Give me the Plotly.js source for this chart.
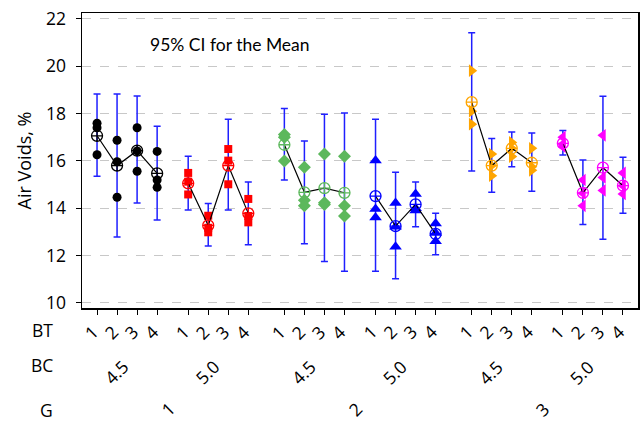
<!DOCTYPE html>
<html>
<head>
<meta charset="utf-8">
<script src="https://cdn.plot.ly/plotly-3.0.1.min.js"></script>
<style>html,body{margin:0;padding:0;background:#fff}#chart{width:640px;height:421px}</style>
</head>
<body>
<div id="chart"></div>
<script>
// ---- categories ----
const G_levels = ['1', '2', '3'];
const BC_levels = ['4.5', '5.0'];
const BT_levels = ['1', '2', '3', '4'];

// ---- individual values (3 replicates per BT) ----
const g1_bc45_pts = [[17.59, 17.40, 16.26], [16.87, 15.96, 14.46], [17.40, 16.42, 15.56], [16.40, 15.19, 14.88]];
const g1_bc50_pts = [[15.49, 15.12, 14.58], [13.68, 13.17, 12.98], [16.50, 16.01, 15.01], [14.39, 13.67, 13.40]];
const g2_bc45_pts = [[17.11, 17.00, 15.99], [15.73, 14.34, 14.10], [16.29, 14.23, 14.15], [16.19, 14.10, 13.67]];
const g2_bc50_pts = [[16.01, 13.96, 13.61], [14.22, 13.21, 12.37], [14.60, 14.00, 13.90], [13.35, 12.95, 12.60]];
const g3_bc45_pts = [[19.81, 18.10, 17.55], [16.29, 15.80, 15.37], [16.78, 16.53, 16.18], [16.53, 15.75, 15.60]];
const g3_bc50_pts = [[16.71, 17.00, 16.60], [15.19, 14.63, 14.10], [17.08, 15.30, 14.75], [15.49, 14.95, 14.60]];

// ---- means ----
const g1_bc45_mean = [17.06, 15.80, 16.43, 15.47];
const g1_bc50_mean = [15.05, 13.27, 15.80, 13.78];
const g2_bc45_mean = [16.68, 14.67, 14.85, 14.65];
const g2_bc50_mean = [14.51, 13.24, 14.16, 12.91];
const g3_bc45_mean = [18.48, 15.80, 16.53, 15.92];
const g3_bc50_mean = [16.74, 14.65, 15.71, 14.95];

// ---- 95% CI bounds ----
const g1_bc45_lo = [15.35, 12.78, 14.22, 13.50];
const g1_bc45_hi = [18.83, 18.83, 18.74, 17.46];
const g1_bc50_lo = [13.92, 12.40, 13.92, 12.45];
const g1_bc50_hi = [16.19, 14.20, 17.76, 15.11];
const g2_bc45_lo = [15.19, 12.50, 11.75, 11.33];
const g2_bc45_hi = [18.21, 16.84, 17.97, 18.02];
const g2_bc50_lo = [11.33, 11.02, 13.21, 12.03];
const g2_bc50_hi = [17.76, 15.52, 15.11, 13.78];
const g3_bc45_lo = [15.57, 14.67, 15.75, 14.72];
const g3_bc45_hi = [21.42, 16.94, 17.22, 17.18];
const g3_bc50_lo = [16.25, 13.31, 12.69, 13.78];
const g3_bc50_hi = [17.28, 16.04, 18.73, 16.15];

const groups = [
  {g: 0, b: 0, pts: g1_bc45_pts, mean: g1_bc45_mean, lo: g1_bc45_lo, hi: g1_bc45_hi, color: '#000000', sym: 'circle', size: 9},
  {g: 0, b: 1, pts: g1_bc50_pts, mean: g1_bc50_mean, lo: g1_bc50_lo, hi: g1_bc50_hi, color: '#ff0000', sym: 'square', size: 8},
  {g: 1, b: 0, pts: g2_bc45_pts, mean: g2_bc45_mean, lo: g2_bc45_lo, hi: g2_bc45_hi, color: '#5cb85c', sym: 'diamond', size: 10},
  {g: 1, b: 1, pts: g2_bc50_pts, mean: g2_bc50_mean, lo: g2_bc50_lo, hi: g2_bc50_hi, color: '#0000ff', sym: 'triangle-up', size: 11},
  {g: 2, b: 0, pts: g3_bc45_pts, mean: g3_bc45_mean, lo: g3_bc45_lo, hi: g3_bc45_hi, color: '#ffa500', sym: 'triangle-right', size: 11},
  {g: 2, b: 1, pts: g3_bc50_pts, mean: g3_bc50_mean, lo: g3_bc50_lo, hi: g3_bc50_hi, color: '#ff00ff', sym: 'triangle-left', size: 11}
];

// layout spacing of the nested categorical axis
const BC_GAP = 1.55, G_GAP = 1.8;
function pos(g, b, t) {
  return g * (2 * (BT_levels.length - 1) + BC_GAP + G_GAP) + b * (BT_levels.length - 1 + BC_GAP) + t;
}

const FONT = 'Open Sans, Noto Sans, sans-serif';
const traces = [];
const allX = [];
const annotations = [];

groups.forEach(grp => {
  const xs = BT_levels.map((_, t) => pos(grp.g, grp.b, t));
  xs.forEach(v => allX.push(v));
  // CI bars
  traces.push({
    x: xs, y: grp.mean, type: 'scatter', mode: 'markers',
    marker: {size: 1, color: 'rgba(0,0,0,0)'},
    error_y: {type: 'data', symmetric: false,
      array: grp.hi.map((h, i) => h - grp.mean[i]),
      arrayminus: grp.mean.map((m, i) => m - grp.lo[i]),
      color: '#1f1fff', thickness: 1.5, width: 3.5},
    hoverinfo: 'skip', showlegend: false
  });
  // individual points
  const px = [], py = [];
  grp.pts.forEach((arr, t) => arr.forEach(v => { px.push(xs[t]); py.push(v); }));
  traces.push({
    x: px, y: py, type: 'scatter', mode: 'markers',
    marker: {symbol: grp.sym, size: grp.size, color: grp.color, line: {width: 0}},
    showlegend: false
  });
  // mean line + symbols
  traces.push({
    x: xs, y: grp.mean, type: 'scatter', mode: 'lines+markers',
    line: {color: '#000000', width: 1.2},
    marker: {symbol: 'circle-cross-open', size: 11, color: grp.color, line: {width: 1.3, color: grp.color}},
    showlegend: false
  });
  // BT labels
  xs.forEach((xv, t) => annotations.push({
    x: xv, y: 0, xref: 'x', yref: 'paper', yanchor: 'middle', xanchor: 'center',
    yshift: -24, xshift: -6, textangle: -45, showarrow: false, borderpad: 0,
    text: BT_levels[t], font: {family: FONT, size: 17.5, color: '#000'}
  }));
  // BC label
  annotations.push({
    x: (xs[0] + xs[xs.length - 1]) / 2, y: 0, xref: 'x', yref: 'paper',
    yanchor: 'middle', xanchor: 'center', yshift: -64, xshift: -11, textangle: -45,
    showarrow: false, borderpad: 0, text: BC_levels[grp.b], font: {family: FONT, size: 17.5, color: '#000'}
  });
});

// G labels
G_levels.forEach((gl, g) => {
  const c = (pos(g, 0, 0) + pos(g, 1, BT_levels.length - 1)) / 2;
  annotations.push({
    x: c, y: 0, xref: 'x', yref: 'paper', yanchor: 'middle', xanchor: 'center',
    yshift: -101, xshift: -5, textangle: -45, showarrow: false, borderpad: 0,
    text: gl, font: {family: FONT, size: 17.5, color: '#000'}
  });
});

// row labels
[['BT', -22], ['BC', -57], ['G', -102]].forEach(([t, ys]) => annotations.push({
  x: 0, y: 0, xref: 'paper', yref: 'paper', xanchor: 'right', yanchor: 'middle',
  xshift: -28, yshift: ys, showarrow: false, borderpad: 0, text: t,
  font: {family: FONT, size: 17.5, color: '#000'}
}));

// title inside the plot
annotations.push({
  x: 0.118, y: 0.892, xref: 'paper', yref: 'paper', xanchor: 'left', yanchor: 'middle',
  showarrow: false, text: '95% CI for the Mean', font: {family: 'Lato, Open Sans, sans-serif', size: 17.5, color: '#000'}
});

const layout = {
  width: 640, height: 421,
  margin: {l: 82, r: 2, t: 13, b: 113},
  paper_bgcolor: '#ffffff', plot_bgcolor: '#ffffff',
  font: {family: FONT, color: '#000'},
  showlegend: false,
  xaxis: {
    range: [-0.75, pos(2, 1, 3) + 0.75],
    tickvals: allX, ticktext: allX.map(() => ''),
    ticks: 'outside', ticklen: 5, tickwidth: 1, tickcolor: '#000',
    showgrid: false, zeroline: false,
    showline: true, linecolor: '#000', linewidth: 1.5, mirror: true
  },
  yaxis: {
    range: [9.78, 22.25],
    tickvals: [10, 12, 14, 16, 18, 20, 22],
    ticks: 'outside', ticklen: 5, tickwidth: 1, tickcolor: '#000',
    ticklabelstandoff: 6,
    tickfont: {family: FONT, size: 17.5, color: '#000'},
    showgrid: true, gridcolor: '#c8c8c8', griddash: 'dash', gridwidth: 1,
    zeroline: false,
    showline: true, linecolor: '#000', linewidth: 1.5, mirror: true,
    title: {text: 'Air Voids, %', font: {family: FONT, size: 18, color: '#000'}, standoff: 9}
  },
  annotations: annotations
};

Plotly.newPlot('chart', traces, layout, {staticPlot: true, displayModeBar: false});
</script>
</body>
</html>
